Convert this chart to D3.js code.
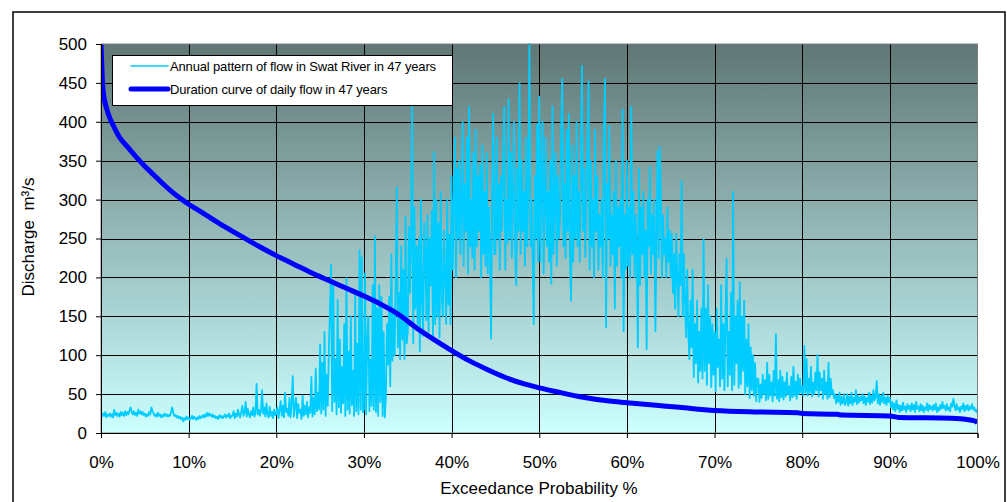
<!DOCTYPE html>
<html>
<head>
<meta charset="utf-8">
<script src="https://cdn.jsdelivr.net/npm/d3@7"></script>
<style>
  body { margin: 0; background: #fff; }
  svg { display: block; }
  text { font-family: "Liberation Sans", Arial, sans-serif; }
</style>
</head>
<body>
<svg id="chart" width="1007" height="502"></svg>
<script>
// Daily flow of the Swat River through the year, 47 years of record (m³/s),
// one value every 0.125 % of the year.
const flowStep = 0.125;
const annualFlow = [
  // 0-5 %
  26,21,25,22,27,20,24,22,25,21,24,20,30,23,26,22,25,21,27,23,
  26,22,28,23,27,24,29,33,27,24,28,23,26,22,30,25,28,24,27,23,
  // 5-10 %
  25,21,24,22,27,24,33,28,25,22,24,21,26,22,24,20,23,21,25,22,
  24,21,23,22,27,33,26,22,23,20,22,19,21,18,20,15,19,17,21,18,
  // 10-15 %
  20,17,19,22,18,21,19,17,20,18,22,19,21,23,20,24,21,26,22,25,
  23,21,24,20,22,19,21,18,23,20,22,19,21,24,20,23,21,25,19,22,
  // 15-20 %
  22,28,19,25,21,30,24,20,27,35,22,26,40,21,31,24,20,28,23,33,
  21,26,63,24,30,22,28,55,25,33,21,38,24,20,34,22,27,19,30,23,
  // 20-25 %
  24,33,19,29,41,22,35,20,52,27,31,22,45,20,38,73,21,33,45,19,
  37,26,30,18,48,22,35,24,40,20,33,26,72,21,45,24,83,28,52,30,
  // 25-30 %
  114,25,90,30,130,22,75,35,110,158,216,28,191,40,95,24,171,33,120,26,
  85,38,140,22,199,30,105,25,150,36,80,22,180,28,115,24,235,30,226,27,
  // 30-35 %
  30,205,24,120,150,28,95,35,190,30,253,27,160,22,190,40,175,22,130,20,
  45,140,88,175,60,230,93,160,100,200,316,110,180,95,240,120,210,95,278,115,
  // 35-40 %
  130,265,180,250,420,115,290,160,240,140,250,105,300,170,125,270,230,145,280,130,
  250,190,285,123,361,140,300,150,270,123,310,180,150,260,205,140,300,165,255,140,
  // 40-45 %
  330,210,300,380,200,340,250,350,230,290,400,215,320,260,380,205,419,240,300,225,
  360,210,390,240,330,260,345,200,370,230,310,215,360,205,290,240,121,300,410,230,
  // 45-50 %
  230,380,250,320,210,330,260,350,419,210,300,245,429,250,360,225,300,400,235,190,
  340,260,449,230,350,260,310,215,380,240,320,500,240,300,220,140,330,250,397,220,
  // 50-55 %
  432,220,330,400,205,300,380,240,310,220,350,192,420,230,300,360,215,330,250,280,
  390,455,240,320,225,390,260,410,235,170,370,220,330,250,400,240,310,220,360,472,
  // 55-60 %
  260,340,226,300,380,452,210,350,240,300,200,390,260,330,210,280,240,300,200,390,
  455,136,320,250,395,215,280,230,310,160,350,215,290,240,300,200,416,131,280,210,
  // 60-65 %
  350,215,290,200,419,230,310,200,280,240,110,340,190,290,230,310,200,260,108,300,
  240,342,205,280,230,300,131,250,362,225,368,300,200,280,230,250,200,290,220,260,
  // 65-70 %
  200,256,180,230,160,256,200,150,230,190,324,150,230,170,123,210,130,95,170,110,
  210,72,140,90,170,65,130,80,160,70,249,80,160,62,190,90,150,59,140,75,
  // 70-75 %
  130,54,160,85,120,60,190,70,140,55,150,224,60,130,75,180,55,310,62,150,
  90,170,58,194,63,150,80,170,50,120,60,140,45,110,55,100,48,90,41,70,
  // 75-80 %
  70,40,62,45,75,50,68,42,90,44,75,48,65,41,80,48,127,44,68,41,
  80,46,72,43,65,47,78,50,60,42,72,46,85,48,66,44,75,50,70,52,
  // 80-85 %
  60,48,112,52,95,48,70,52,85,47,65,50,78,55,100,47,78,55,70,44,
  80,50,65,44,90,46,70,50,55,45,50,38,48,40,52,36,46,38,50,36,
  // 85-90 %
  40,50,35,47,38,52,36,45,40,55,37,48,39,46,42,50,38,47,36,45,
  40,52,37,48,39,55,42,46,67,38,50,36,48,40,52,38,45,36,48,40,
  // 90-95 %
  45,33,40,30,38,28,42,31,36,27,35,29,39,30,34,27,37,31,35,28,
  38,30,36,27,40,31,34,28,37,29,35,27,33,30,38,28,36,31,34,29,
  // 95-100 %
  36,30,38,27,33,29,36,31,40,32,35,29,37,30,33,28,38,34,44,35,
  29,37,30,33,27,34,31,38,28,35,30,36,29,34,31,37,30,33,28,30,25
];

// Flow duration curve of daily flow (exceedance %, discharge m³/s)
const durationPct = [0,0.1,0.2,0.4,0.7,1,1.5,2,3,4,5,6,7,8,9,10,11,12,14,16,18,20,22,24,26,28,30,
  32,34,36,38,40,42,44,46,48,50,52,55,58,60,63,66,70,75,79.5,80,84,84.5,90,91,97,99,99.8,100];
const durationQ = [500,470,445,428,415,405,393,382,368,355,343,332,321,311,302,294,287,280,266,253,240,228,217,206,196,186,176,
  165,152,135,120,106,93,82,72,64,58,53,46,41,39,36,33,29,27,26,25,24,23,22,20,19,17,15,13];

const xTicks = [0,10,20,30,40,50,60,70,80,90,100];
const yTicks = [0,50,100,150,200,250,300,350,400,450,500];

const legendLabels = [
  "Annual pattern of flow in Swat River in 47 years",
  "Duration curve of daily flow in 47 years"
];
const xTitle = "Exceedance Probability %";
const yTitle = "Discharge\u00A0 m³/s";

const svg = d3.select("#chart");
const plot = { left: 101, top: 44, right: 977.5, bottom: 433 };

const x = d3.scaleLinear().domain([0, 100]).range([plot.left, plot.right]);
const y = d3.scaleLinear().domain([0, 500]).range([plot.bottom, plot.top]);

// outer frame
svg.append("rect")
  .attr("x", 13).attr("y", 12).attr("width", 992).attr("height", 500)
  .attr("fill", "#fff").attr("stroke", "#000").attr("stroke-width", 1.5);

const defs = svg.append("defs");
const grad = defs.append("linearGradient")
  .attr("id", "bg").attr("x1", 0).attr("y1", 0).attr("x2", 0).attr("y2", 1);
grad.append("stop").attr("offset", 0).attr("stop-color", "#5f7775");
grad.append("stop").attr("offset", 1).attr("stop-color", "#ccffff");

defs.append("clipPath").attr("id", "plotClip")
  .append("rect")
  .attr("x", plot.left).attr("y", plot.top - 2)
  .attr("width", plot.right - plot.left).attr("height", plot.bottom - plot.top + 2);

svg.append("rect")
  .attr("x", plot.left).attr("y", plot.top)
  .attr("width", plot.right - plot.left).attr("height", plot.bottom - plot.top)
  .attr("fill", "url(#bg)");

// grid
const grid = svg.append("g").attr("stroke", "#000").attr("stroke-width", 1);
grid.selectAll("line.h").data(yTicks.slice(1, -1)).join("line")
  .attr("x1", plot.left).attr("x2", plot.right)
  .attr("y1", d => Math.round(y(d)) + 0.5).attr("y2", d => Math.round(y(d)) + 0.5);
grid.selectAll("line.v").data(xTicks.slice(1, -1)).join("line")
  .attr("y1", plot.top).attr("y2", plot.bottom)
  .attr("x1", d => Math.round(x(d)) + 0.5).attr("x2", d => Math.round(x(d)) + 0.5);

const series = svg.append("g").attr("clip-path", "url(#plotClip)");

// annual pattern
series.append("path")
  .datum(annualFlow)
  .attr("fill", "none")
  .attr("stroke", "#00ccff")
  .attr("stroke-width", 1.8)
  .attr("stroke-linejoin", "round")
  .attr("d", d3.line().x((d, i) => x(i * flowStep)).y(d => y(d)));

// duration curve
const durData = durationPct.map((p, i) => [p, durationQ[i]]);
series.append("path")
  .datum(durData)
  .attr("fill", "none")
  .attr("stroke", "#0000ff")
  .attr("stroke-width", 5)
  .attr("stroke-linejoin", "round")
  .attr("d", d3.line().x(d => x(d[0])).y(d => y(d[1])).curve(d3.curveMonotoneX));

// plot border
svg.append("rect")
  .attr("x", plot.left).attr("y", plot.top)
  .attr("width", plot.right - plot.left).attr("height", plot.bottom - plot.top)
  .attr("fill", "none").attr("stroke", "#808080").attr("stroke-width", 1);

// axes
const yAxis = svg.append("g")
  .attr("transform", `translate(${plot.left},0)`)
  .call(d3.axisLeft(y).tickValues(yTicks).tickSize(5).tickPadding(9).tickFormat(d3.format("d")));
const xAxis = svg.append("g")
  .attr("transform", `translate(0,${plot.bottom})`)
  .call(d3.axisBottom(x).tickValues(xTicks).tickSize(5).tickPadding(18).tickFormat(d => d + "%"));
[yAxis, xAxis].forEach(a => {
  a.selectAll("path.domain").attr("stroke", "#000");
  a.selectAll(".tick line").attr("stroke", "#000");
  a.selectAll("text").attr("font-size", 17).attr("fill", "#000")
    .attr("font-family", "'Liberation Sans', Arial, sans-serif");
});

// axis titles
svg.append("text")
  .attr("x", 539).attr("y", 494)
  .attr("text-anchor", "middle").attr("font-size", 17)
  .text(xTitle);
svg.append("text")
  .attr("transform", "translate(34,237) rotate(-90)")
  .attr("text-anchor", "middle").attr("font-size", 17)
  .text(yTitle);

// legend
const lg = svg.append("g");
lg.append("rect")
  .attr("x", 112.5).attr("y", 55.5).attr("width", 340).attr("height", 50)
  .attr("fill", "#fff").attr("stroke", "#000").attr("stroke-width", 1);
const legendStyles = [
  { color: "#00ccff", width: 1.5 },
  { color: "#0000ff", width: 5 }
];
legendLabels.forEach((label, i) => {
  const cy = 66 + i * 23;
  lg.append("line")
    .attr("x1", 131).attr("x2", 168).attr("y1", cy).attr("y2", cy)
    .attr("stroke", legendStyles[i].color).attr("stroke-width", legendStyles[i].width)
    .attr("stroke-linecap", "round");
  lg.append("text")
    .attr("x", 170).attr("y", cy + 5)
    .attr("font-size", 13).attr("letter-spacing", -0.15)
    .text(label);
});
</script>
</body>
</html>
